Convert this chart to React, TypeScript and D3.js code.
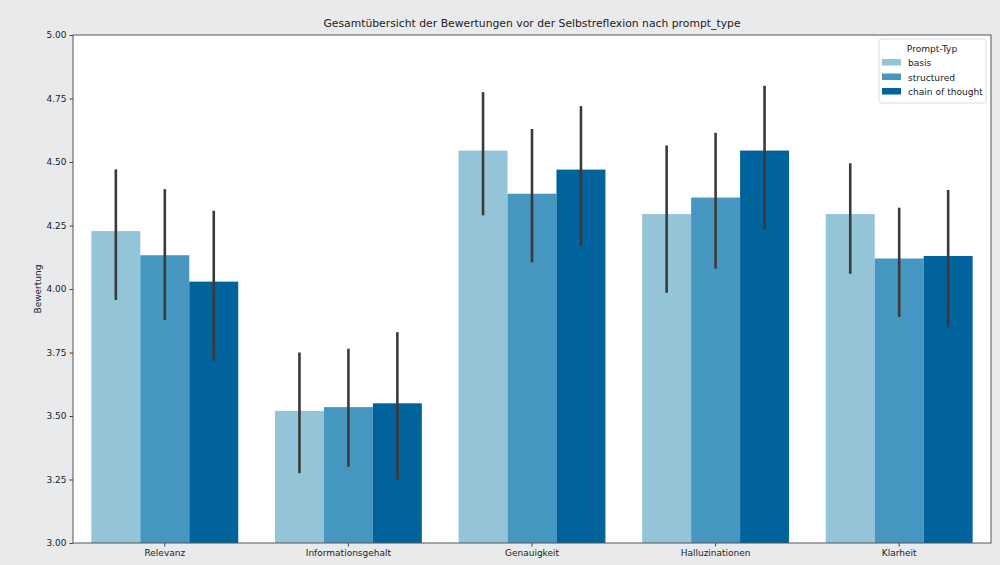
import React, { useEffect, useRef } from 'react';
import * as d3 from 'd3';

const categories = ['Relevanz', 'Informationsgehalt', 'Genauigkeit', 'Halluzinationen', 'Klarheit'];
const promptTypes = ['basis', 'structured', 'chain of thought'];
const colors = ['#94c4d8', '#4596c0', '#01639c'];

// means per prompt type (same order as categories)
const basisMean = [4.228, 3.52, 4.545, 4.295, 4.295];
const structuredMean = [4.133, 3.535, 4.375, 4.36, 4.12];
const cotMean = [4.029, 3.55, 4.47, 4.545, 4.13];

// error bar ranges [low, high]
const basisErr = [[3.957, 4.471], [3.275, 3.75], [4.29, 4.775], [3.985, 4.565], [4.06, 4.495]];
const structuredErr = [[3.878, 4.393], [3.3, 3.765], [4.105, 4.63], [4.08, 4.615], [3.89, 4.32]];
const cotErr = [[3.717, 4.308], [3.25, 3.83], [4.17, 4.72], [4.235, 4.8], [3.85, 4.39]];

const yTicks = [3.0, 3.25, 3.5, 3.75, 4.0, 4.25, 4.5, 4.75, 5.0];

const W = 1000;
const H = 565;

export default function App() {
  const svgRef = useRef<SVGSVGElement>(null);

  useEffect(() => {
    if (!svgRef.current) return;
    const svg = d3.select(svgRef.current);
    svg.selectAll('*').remove();

    const margin = { top: 35, right: 9, bottom: 22, left: 73 };
    const innerWidth = W - margin.left - margin.right;
    const innerHeight = H - margin.top - margin.bottom;
    const font = 'DejaVu Sans, sans-serif';

    svg.append('rect').attr('width', W).attr('height', H).attr('fill', '#e9eaec');

    const g = svg.append('g').attr('transform', `translate(${margin.left},${margin.top})`);
    g.append('rect').attr('width', innerWidth).attr('height', innerHeight).attr('fill', '#fff');

    const x = d3.scaleBand().domain(categories).range([0, innerWidth]).paddingInner(0.2).paddingOuter(0.1);
    const xSub = d3.scaleBand().domain(promptTypes).range([0, x.bandwidth()]);
    const y = d3.scaleLinear().domain([3, 5]).range([innerHeight, 0]);

    const series = [
      { name: promptTypes[0], mean: basisMean, err: basisErr, color: colors[0] },
      { name: promptTypes[1], mean: structuredMean, err: structuredErr, color: colors[1] },
      { name: promptTypes[2], mean: cotMean, err: cotErr, color: colors[2] },
    ];

    // Bars
    series.forEach(s => {
      g.append('g')
        .selectAll('rect')
        .data(categories)
        .join('rect')
        .attr('x', (c) => (x(c) || 0) + (xSub(s.name) || 0))
        .attr('y', (c, i) => y(s.mean[i]))
        .attr('width', xSub.bandwidth())
        .attr('height', (c, i) => innerHeight - y(s.mean[i]))
        .attr('fill', s.color);
    });

    // Error bars
    series.forEach(s => {
      g.append('g')
        .selectAll('line')
        .data(categories)
        .join('line')
        .attr('x1', (c) => (x(c) || 0) + (xSub(s.name) || 0) + xSub.bandwidth() / 2)
        .attr('x2', (c) => (x(c) || 0) + (xSub(s.name) || 0) + xSub.bandwidth() / 2)
        .attr('y1', (c, i) => y(s.err[i][0]))
        .attr('y2', (c, i) => y(s.err[i][1]))
        .attr('stroke', '#3a3a3a')
        .attr('stroke-width', 2.6);
    });

    // Axes
    const yAxis = g.append('g')
      .call(d3.axisLeft(y).tickValues(yTicks).tickFormat(d3.format('.2f')).tickSize(3.5).tickPadding(3));
    const xAxis = g.append('g')
      .attr('transform', `translate(0,${innerHeight})`)
      .call(d3.axisBottom(x).tickSize(3.5).tickPadding(3));
    [yAxis, xAxis].forEach(a => {
      a.select('.domain').remove();
      a.selectAll('line').attr('stroke', '#444');
      a.selectAll('text').attr('fill', '#222').style('font-family', font).style('font-size', '9px');
    });

    // Frame
    g.append('rect')
      .attr('width', innerWidth)
      .attr('height', innerHeight)
      .attr('fill', 'none')
      .attr('stroke', '#555')
      .attr('stroke-width', 1);

    // Title
    svg.append('text')
      .attr('x', margin.left + innerWidth / 2)
      .attr('y', 27)
      .attr('text-anchor', 'middle')
      .style('font-family', font)
      .style('font-size', '10.8px')
      .attr('fill', '#222')
      .text('Gesamtübersicht der Bewertungen vor der Selbstreflexion nach prompt_type');

    // Y label
    svg.append('text')
      .attr('transform', `translate(41,${margin.top + innerHeight / 2}) rotate(-90)`)
      .attr('text-anchor', 'middle')
      .style('font-family', font)
      .style('font-size', '9px')
      .attr('fill', '#222')
      .text('Bewertung');

    // Legend
    const legend = svg.append('g').attr('transform', 'translate(879,39)');
    legend.append('rect')
      .attr('width', 107)
      .attr('height', 64)
      .attr('rx', 2)
      .attr('fill', '#fff')
      .attr('fill-opacity', 0.8)
      .attr('stroke', '#ddd');
    legend.append('text')
      .attr('x', 53)
      .attr('y', 13)
      .attr('text-anchor', 'middle')
      .style('font-family', font)
      .style('font-size', '9.1px')
      .attr('fill', '#222')
      .text('Prompt-Typ');
    series.forEach((s, i) => {
      const row = legend.append('g').attr('transform', `translate(3,${20 + i * 14.5})`);
      row.append('rect').attr('width', 19).attr('height', 6.5).attr('fill', s.color);
      row.append('text')
        .attr('x', 26)
        .attr('y', 7)
        .style('font-family', font)
        .style('font-size', '9.1px')
        .attr('fill', '#222')
        .text(s.name);
    });
  }, []);

  return (
    <svg
      ref={svgRef}
      width={W}
      height={H}
      style={{ position: 'absolute', left: 0, top: 0, display: 'block' }}
    />
  );
}
